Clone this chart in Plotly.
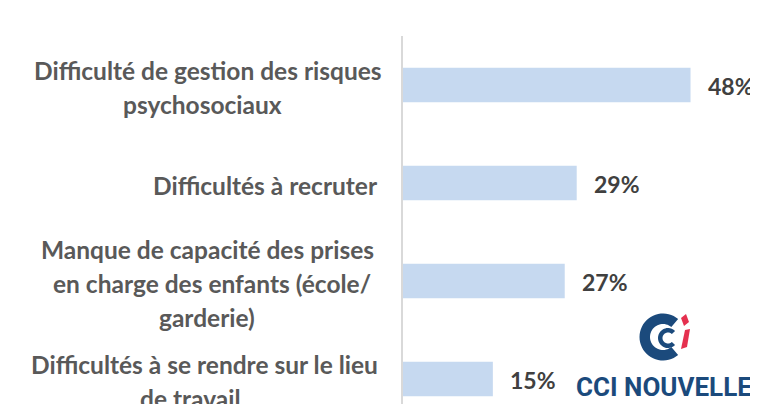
import math
import plotly.graph_objects as go

categories = [
    ["Difficulté de gestion des risques", "psychosociaux"],
    ["Difficultés à recruter"],
    ["Manque de capacité des prises", "en charge des enfants (école/", "garderie)"],
    ["Difficultés à se rendre sur le lieu", "de travail"],
]
values = [48, 29, 27, 15]
value_labels = ["48%", "29%", "27%", "15%"]

# layout constants (reference pixels; page body has an 8px margin)
OFF = 8
W, H = 758 - OFF, 404 - OFF
AX_X, TOP_Y, BOT_Y = 403, 36, 404
ML, MT, MB, MR = AX_X - OFF, TOP_Y - OFF, 0, 0
PW, PH = W - ML - MR, H - MT - MB
PX_PER_UNIT = 5.99
LINE_CX = [[208, 202], [265], [207, 212, 207], [204, 190]]
LINE_H = 34

cat_keys = [" ".join(c) for c in categories]

fig = go.Figure()
fig.add_trace(go.Bar(
    x=values, y=cat_keys, orientation="h",
    marker=dict(color="#c6d9f0", line=dict(width=0)),
    width=0.35, hoverinfo="skip",
))

FONT = "Lato, Open Sans, sans-serif"
LBL = "#595959"
VAL = "#404040"

annotations = []
for key, lines, cxs in zip(cat_keys, categories, LINE_CX):
    n = len(lines)
    for i, (ln, cx) in enumerate(zip(lines, cxs)):
        annotations.append(dict(
            x=0, y=key, xref="x", yref="y", text="<b>" + ln + "</b>", showarrow=False,
            xanchor="center", yanchor="middle",
            xshift=cx - AX_X,
            yshift=-((i - (n - 1) / 2) * LINE_H) - 2,
            font=dict(family=FONT, size=24.5, color=LBL),
        ))
for key, v, t in zip(cat_keys, values, value_labels):
    annotations.append(dict(
        x=v, y=key, xref="x", yref="y", text="<b>" + t + "</b>", showarrow=False,
        xanchor="left", yanchor="middle", xshift=15, yshift=-1,
        font=dict(family=FONT, size=23, color=VAL),
    ))


def px(xp):
    return (xp - AX_X) / PW


def py(yp):
    return (BOT_Y - yp) / PH


annotations.append(dict(
    x=px(664), y=py(387), xref="paper", yref="paper", text="<b>CCI NOUVELLE</b>",
    showarrow=False, xanchor="center", yanchor="middle",
    font=dict(family="Liberation Sans Narrow, Roboto, sans-serif", size=26, color="#1b4a7c"),
))


def arc_path(cx, cy, r_out, r_in, a0, a1, steps=40):
    pts = []
    for k in range(steps + 1):
        a = math.radians(a0 + (a1 - a0) * k / steps)
        pts.append((cx + r_out * math.cos(a), cy - r_out * math.sin(a)))
    for k in range(steps + 1):
        a = math.radians(a1 - (a1 - a0) * k / steps)
        pts.append((cx + r_in * math.cos(a), cy - r_in * math.sin(a)))
    return "M " + " L ".join(f"{px(x):.5f},{py(y):.5f}" for x, y in pts) + " Z"


def poly_path(pts):
    return "M " + " L ".join(f"{px(x):.5f},{py(y):.5f}" for x, y in pts) + " Z"


shapes = [
    dict(type="path", xref="paper", yref="paper", path=arc_path(663, 337, 23.5, 13, 50, 310),
         fillcolor="#1b4a7c", line=dict(width=0)),
    dict(type="path", xref="paper", yref="paper", path=arc_path(668, 338, 10, 5.5, 45, 315),
         fillcolor="#1b4a7c", line=dict(width=0)),
    dict(type="path", xref="paper", yref="paper",
         path=poly_path([(681, 318), (686, 314), (689, 322), (684, 326)]),
         fillcolor="#e5304f", line=dict(width=0)),
    dict(type="path", xref="paper", yref="paper",
         path=poly_path([(685, 330), (690, 329), (687, 347), (681, 349)]),
         fillcolor="#e5304f", line=dict(width=0)),
]

fig.update_layout(
    width=W, height=H,
    margin=dict(l=ML, r=MR, t=MT, b=MB, pad=0),
    paper_bgcolor="white", plot_bgcolor="white",
    showlegend=False,
    annotations=annotations,
    shapes=shapes,
    xaxis=dict(range=[0, PW / PX_PER_UNIT], visible=False, fixedrange=True),
    yaxis=dict(range=[3.255, -0.5], showticklabels=False, showgrid=False,
               showline=True, linecolor="#d9d9d9", linewidth=2, ticks="",
               zeroline=False, fixedrange=True),
)

fig.write_html("out.html")
